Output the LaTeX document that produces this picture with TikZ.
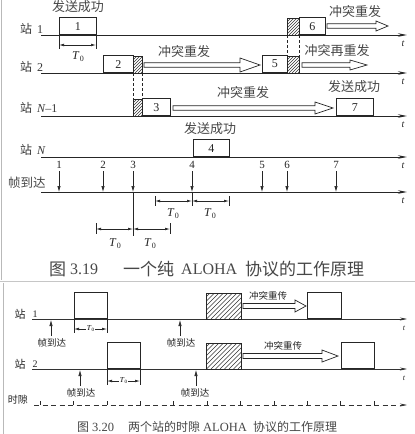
\documentclass[tikz,border=0pt]{standalone}
\usepackage{fontspec}
\setmainfont{Liberation Serif}
\newfontfamily\cjk{Noto Sans CJK SC}
\usetikzlibrary{arrows.meta}
\newcommand\Tz{\textit{T}\kern0.3pt\raisebox{-0.35ex}{\fontsize{8}{8}\selectfont 0}}
\newcommand\Tzs{\textit{T}\kern0.2pt\raisebox{-0.3ex}{\fontsize{5}{5}\selectfont 0}}
% fat hollow arrow: x0 x1 y headlen headhalf shafthalf
\newcommand\fatarr[6]{%
  \draw[fatline] (#1,#3-#6) -- (#2-#4,#3-#6) -- (#2-#4,#3-#5) -- (#2,#3)
    -- (#2-#4,#3+#5) -- (#2-#4,#3+#6) -- (#1,#3+#6) -- cycle;}
% hatched box: x0 ytop x1 ybot spacing
\newcommand\hatchbox[5]{%
  \begin{scope}
    \clip (#1,#2) rectangle (#3,#4);
    \foreach \i in {0,...,40} \draw[hatchline] (#1-40+\i*#5,#4) -- ++(50,-50);
  \end{scope}
  \draw[boxline] (#1,#2) rectangle (#3,#4);}
\newcommand\stlab[1]{{\fontsize{12}{12}\selectfont\cjk 站}\hspace{5pt}{\fontsize{12}{12}\selectfont #1}}
\begin{document}
\begin{tikzpicture}[x=1pt,y=-1pt,
  boxline/.style={line width=0.75pt, draw=black!85},
  hatchline/.style={line width=0.45pt, draw=black!80},
  fatline/.style={line width=0.7pt, draw=black!85, fill=white},
  ax/.style={line width=0.8pt, draw=black!85, -{Stealth[length=9pt,width=3.5pt]}},
  axb/.style={line width=0.6pt, draw=black!80, -{Stealth[length=7pt,width=3pt]}},
  dim/.style={line width=0.6pt, draw=black!85, {Latex[length=5pt,width=2.6pt]}-{Latex[length=5pt,width=2.6pt]}},
  tick/.style={line width=0.6pt, draw=black!85},
  arr/.style={line width=0.7pt, draw=black!85, -{Latex[length=6pt,width=3.4pt]}},
  dsh/.style={line width=0.6pt, draw=black!85, dash pattern=on 3pt off 2pt},
  zh/.style={font=\fontsize{13}{13}\selectfont\cjk, text=black!72, inner sep=0},
  lab/.style={font=\fontsize{12}{12}\selectfont, text=black!85, inner sep=0},
  zhs/.style={font=\fontsize{9.5}{9.5}\selectfont\cjk, text=black!85, inner sep=0},
  tt/.style={font=\fontsize{10}{10}\selectfont\itshape, text=black!85, inner sep=0},
  fb/.style={boxline, fill=white, inner sep=0, anchor=south west, font=\fontsize{12}{12}\selectfont, text=black!85},
  capA/.style={anchor=west, inner sep=0, text=black!72, font=\fontsize{17}{17}\selectfont\cjk},
  capAl/.style={anchor=west, inner sep=0, text=black!72, font=\fontsize{16}{16}\selectfont},
  capB/.style={anchor=west, inner sep=0, text=black!72, font=\fontsize{12}{12}\selectfont\cjk},
  capBl/.style={anchor=west, inner sep=0, text=black!72, font=\fontsize{12.5}{12.5}\selectfont},
  st/.style={anchor=west, inner sep=0, text=black!78},
]
\useasboundingbox (0,0) rectangle (415,434);
\fill[white] (0,0) rectangle (415,434);
% borders
\draw[gray!55, line width=1pt] (1,0) -- (1,280);
\draw[gray!45, line width=1.8pt] (0,281.5) -- (415,281.5);
\draw[gray!55, line width=1pt] (3.5,283) -- (3.5,434);

% ---------------- top panel: axes ----------------
\foreach \n/\y in {a/35,b/73,c/116,d/157,e/192}{
  \coordinate (\n0) at (41,\y); \coordinate (\n1) at (407,\y);
  \draw[ax] (\n0) -- (\n1);
  \node[tt] (t\n) at (403,\y+9) {t};
}
\node[st] (s1) at (20,29) {\stlab{1}};
\node[st] (s2) at (20,67) {\stlab{2}};
\node[st] (s3) at (20,108) {\stlab{\textit{N}\kern-0.5pt\textendash 1}};
\node[st] (s4) at (20,150) {\stlab{\textit{N}}};
\node[anchor=west, zh, font=\fontsize{12.5}{12.5}\selectfont\cjk] (s5) at (8,183) {帧到达};

% dashed collision lines
\draw[dsh] (133,73) -- (133,99);
\draw[dsh] (142,73) -- (142,99);
\draw[dsh] (287,35) -- (287,56);
\draw[dsh] (299,35) -- (299,56);

% boxes
\node[fb, minimum width=37, minimum height=17] (b1) at (59,35) {1};
\node[fb, minimum width=30, minimum height=17] (b2) at (103,73) {2};
\hatchbox{133}{56}{142}{73}{3}
\node[fb, minimum width=25, minimum height=17] (b5) at (262,73) {5};
\hatchbox{287}{56}{299}{73}{3}
\hatchbox{287}{18}{299}{35}{3}
\node[fb, minimum width=26, minimum height=17] (b6) at (299,35) {6};
\hatchbox{133}{99}{142}{116}{3}
\node[fb, minimum width=28, minimum height=17] (b3) at (142,116) {3};
\node[fb, minimum width=37, minimum height=17] (b7) at (336,116) {7};
\node[fb, minimum width=36, minimum height=17] (b4) at (193,157) {4};

% fat arrows
\fatarr{144}{260}{65}{20}{7}{2.2}
\fatarr{302}{367}{65}{17}{5}{2.2}
\fatarr{327}{388}{26}{12}{5}{2.2}
\fatarr{173}{333}{108}{18}{6}{2.2}

% labels
\node[zh] (l1) at (78,7) {发送成功};
\node[zh] (l2) at (184,52) {冲突重发};
\node[zh] (l3) at (355,12) {冲突重发};
\node[zh] (l4) at (337,51) {冲突再重发};
\node[zh] (l5) at (243,93) {冲突重发};
\node[zh] (l6) at (354,87) {发送成功};
\node[zh] (l7) at (210,129) {发送成功};

% T0 under box 1
\draw[tick] (59,35) -- (59,49);
\draw[tick] (96,35) -- (96,49);
\draw[dim] (59,45) -- (96,45);
\node[lab] (T1) at (78,57) {\Tz};

% frame arrivals
\foreach \k/\x in {1/59,2/103,3/133,4/192,5/262,6/287,7/336}{
  \node[lab, font=\fontsize{11}{11}\selectfont] (n\k) at (\x,165) {\k};
  \coordinate (p\k) at (\x,171);
  \coordinate (q\k) at (\x,192);
  \draw[arr] (p\k) -- (q\k);
}
% T0 around 4
\draw[tick] (192,192) -- (192,206);
\draw[tick] (155,196) -- (155,206);
\draw[tick] (229,196) -- (229,206);
\draw[dim] (155,201) -- (192,201);
\draw[dim] (192,201) -- (229,201);
\node[lab] (T2) at (173,214) {\Tz};
\node[lab] (T3) at (210,214) {\Tz};
% T0 around 3
\draw[tick] (133,192) -- (133,236);
\draw[tick] (96,223) -- (96,234);
\draw[tick] (170,223) -- (170,234);
\draw[dim] (96,229) -- (133,229);
\draw[dim] (133,229) -- (170,229);
\node[lab] (T4) at (115,244) {\Tz};
\node[lab] (T5) at (150,244) {\Tz};

% caption 3.19
\node[capA] (cap1a) at (49,269) {图};
\node[capAl] (cap1b) at (70,269) {3.19};
\node[capA] (cap1c) at (123,269) {一个纯};
\node[capAl] (cap1d) at (181,269) {ALOHA};
\node[capA] (cap1e) at (245,269) {协议的工作原理};

% ---------------- bottom panel ----------------
\coordinate (u0) at (32,319); \coordinate (u1) at (407,319);
\coordinate (v0) at (32,369); \coordinate (v1) at (407,369);
\draw[axb] (u0) -- (u1);
\draw[axb] (v0) -- (v1);
\node[tt, font=\fontsize{8}{8}\selectfont\itshape] (tu) at (404,328) {t};
\node[tt, font=\fontsize{8}{8}\selectfont\itshape] (tv) at (404,378) {t};
\node[inner sep=0, font=\fontsize{11}{11}\selectfont\cjk, text=black!85] (z1) at (20,314) {站};
\node[inner sep=0, font=\fontsize{10}{10}\selectfont, text=black!85] (z1n) at (35,314) {1};
\node[inner sep=0, font=\fontsize{11}{11}\selectfont\cjk, text=black!85] (z2) at (20,364) {站};
\node[inner sep=0, font=\fontsize{10}{10}\selectfont, text=black!85] (z2n) at (35,364) {2};

\node[fb, line width=0.6pt, minimum width=33, minimum height=26] (c1) at (74,319) {};
\node[fb, line width=0.6pt, minimum width=34, minimum height=26] (c2) at (307,319) {};
\node[fb, line width=0.6pt, minimum width=33, minimum height=26] (c3) at (107,369) {};
\node[fb, line width=0.6pt, minimum width=33, minimum height=26] (c4) at (341,369) {};
\hatchbox{206}{293}{241}{319}{4.5}
\hatchbox{206}{343}{241}{369}{4.5}

% T0 dims bottom
\draw[tick] (74,319) -- (74,333);
\draw[tick] (107,319) -- (107,333);
\draw[dim] (74,329) -- (107,329);
\node[fill=white, inner sep=0.6pt, font=\fontsize{7.5}{7.5}\selectfont] (T6) at (90.5,329) {\Tzs};
\draw[tick] (107,369) -- (107,385);
\draw[tick] (140,369) -- (140,385);
\draw[dim] (107,381) -- (140,381);
\node[fill=white, inner sep=0.6pt, font=\fontsize{7.5}{7.5}\selectfont] (T7) at (123.5,381) {\Tzs};

% arrivals (upward)
\foreach \m/\x/\ya/\yb in {1/51/336/320, 2/180/336/320, 3/80/386/370, 4/196/386/370}{
  \coordinate (g\m) at (\x,\ya); \coordinate (h\m) at (\x,\yb);
  \draw[arr, line width=0.6pt] (g\m) -- (h\m);
}
\node[zhs] (f1) at (52,343) {帧到达};
\node[zhs] (f2) at (181,343) {帧到达};
\node[zhs] (f3) at (81,393) {帧到达};
\node[zhs] (f4) at (195,393) {帧到达};

% fat arrows bottom
\fatarr{243}{306}{306}{11}{6}{2.5}
\fatarr{243}{338}{356}{16}{6}{2.5}
\node[zhs] (r1) at (268,296) {冲突重传};
\node[zhs] (r2) at (283,346) {冲突重传};

% slot axis
\coordinate (w0) at (34,405); \coordinate (w1) at (407,405);
\draw[line width=0.6pt, draw=black!80, dash pattern=on 5pt off 3.5pt, -{Stealth[length=7pt,width=3pt]}] (w0) -- (w1);
\foreach \i in {0,...,10} \draw[tick] (40+\i*33.4,405) -- ++(0,-4);
\node[zhs, font=\fontsize{10}{10}\selectfont\cjk] (sl) at (18,400) {时隙};

% caption 3.20
\node[capB] (cap2a) at (77,427) {图};
\node[capBl] (cap2b) at (92,427) {3.20};
\node[capB] (cap2c) at (128,427) {两个站的时隙};
\node[capBl] (cap2d) at (203,427) {ALOHA};
\node[capB] (cap2e) at (253,427) {协议的工作原理};
\end{tikzpicture}
\end{document}
